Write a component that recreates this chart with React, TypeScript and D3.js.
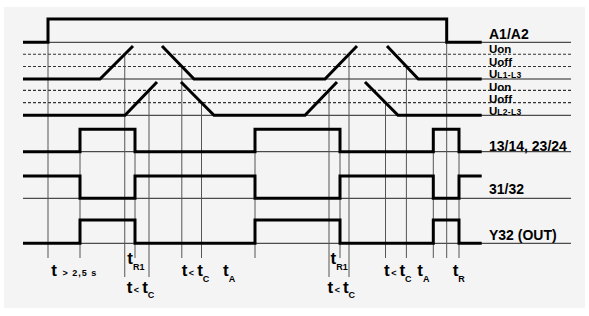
import * as d3 from "d3";

// time axis in diagram units (0 = left edge of the traces)
const timeEnd = 548;
const traceEnd = 458.7;

// supply A1/A2 : [time, level]
const a1a2Steps: [number, number][] = [[0, 0], [25, 1], [423.7, 0], [traceEnd, 0]];

// phase voltages, as separate ramps (0 = off, 1 = peak)
const l1Ramps: [number, number][][] = [
  [[0, 0], [77, 0], [110, 1]],
  [[139, 1], [171, 0], [302, 0], [334, 1]],
  [[364, 1], [395.3, 0], [traceEnd, 0]],
];
const l2Ramps: [number, number][][] = [
  [[0, 0], [102, 0], [134, 1]],
  [[158, 1], [191, 0], [282, 0], [314, 1]],
  [[342, 1], [375, 0], [traceEnd, 0]],
];
const uOn = 0.75;
const uOff = 0.38;

// contacts
const out1314Steps: [number, number][] = [[0, 0], [57, 1], [112, 0], [232, 1], [317, 0], [410.3, 1], [436, 0], [traceEnd, 0]];
const out3132Steps: [number, number][] = out1314Steps.map(([t, v]) => [t, 1 - v]);
const y32Steps: [number, number][] = out1314Steps.map(([t, v]) => [t, v]);

// vertical marker lines: time, row/level where they start, long = reaches second label row
const markers = [
  { t: 25, row: "a1", lvl: 0, long: false },
  { t: 57, row: "o1", lvl: 1, long: false },
  { t: 101.75, row: "l1", lvl: uOn, long: true },
  { t: 112, row: "o1", lvl: 1, long: false },
  { t: 126, row: "l2", lvl: uOn, long: true },
  { t: 158.8, row: "l1", lvl: uOff, long: false },
  { t: 178.5, row: "l2", lvl: uOff, long: false },
  { t: 232, row: "o1", lvl: 1, long: false },
  { t: 306, row: "l2", lvl: uOn, long: true },
  { t: 317, row: "o1", lvl: 1, long: false },
  { t: 326, row: "l1", lvl: uOn, long: true },
  { t: 362.5, row: "l2", lvl: uOff, long: false },
  { t: 383.4, row: "l1", lvl: uOff, long: false },
  { t: 410.3, row: "o1", lvl: 1, long: false },
  { t: 423.7, row: "a1", lvl: 1, long: false },
  { t: 436, row: "o1", lvl: 1, long: false },
];

// bottom time labels
const timeLabels = [
  { t: 28.3, line: 1, op: "", main: "", sub: "", small: " > 2,5 s" },
  { t: 104.3, line: 0, op: "", main: "", sub: "R1", small: "" },
  { t: 103.7, line: 2, op: "<", main: "t", sub: "C", small: "" },
  { t: 158.7, line: 1, op: "<", main: "t", sub: "C", small: "" },
  { t: 200, line: 1, op: "", main: "", sub: "A", small: "" },
  { t: 307.5, line: 0, op: "", main: "", sub: "R1", small: "" },
  { t: 304.5, line: 2, op: "<", main: "t", sub: "C", small: "" },
  { t: 361, line: 1, op: "<", main: "t", sub: "C", small: "" },
  { t: 394.3, line: 1, op: "", main: "", sub: "A", small: "" },
  { t: 429.7, line: 1, op: "", main: "", sub: "R", small: "" },
];

// right-hand signal names
const signalLabels = [
  { text: "A1/A2", sub: "", size: 14, y: 38.7 },
  { text: "Uon", sub: "", size: 11.5, y: 52.8 },
  { text: "Uoff", sub: "", size: 11.5, y: 66.4 },
  { text: "U", sub: "L1-L3", size: 11.5, y: 78.2 },
  { text: "Uon", sub: "", size: 11.5, y: 90.6 },
  { text: "Uoff", sub: "", size: 11.5, y: 102.8 },
  { text: "U", sub: "L2-L3", size: 11.5, y: 115 },
  { text: "13/14, 23/24", sub: "", size: 14, y: 150.7 },
  { text: "31/32", sub: "", size: 14, y: 194 },
  { text: "Y32 (OUT)", sub: "", size: 14, y: 239.5 },
];

const W = 589;
const H = 316;
const FONT = "'Liberation Sans', Arial, Helvetica, sans-serif";

export default function App() {
  const x = d3.scaleLinear().domain([0, timeEnd]).range([23, 571]);
  const rows: Record<string, d3.ScaleLinear<number, number>> = {
    a1: d3.scaleLinear().domain([0, 1]).range([42.3, 19]),
    l1: d3.scaleLinear().domain([0, 1]).range([79, 46]),
    l2: d3.scaleLinear().domain([0, 1]).range([115.3, 82]),
    o1: d3.scaleLinear().domain([0, 1]).range([151.7, 129.3]),
    o2: d3.scaleLinear().domain([0, 1]).range([198.3, 176]),
    o3: d3.scaleLinear().domain([0, 1]).range([243.3, 220]),
  };
  const labelBase = [264, 276, 292.5];
  const markerEnd = (long: boolean) => (long ? 277 : 258);

  const stepLine = (y: d3.ScaleLinear<number, number>) =>
    d3.line<[number, number]>().x((d) => x(d[0])).y((d) => y(d[1])).curve(d3.curveStepAfter);
  const rampLine = (y: d3.ScaleLinear<number, number>) =>
    d3.line<[number, number]>().x((d) => x(d[0])).y((d) => y(d[1]));

  const baselines = ["a1", "l1", "l2", "o1", "o2", "o3"].map((k) => rows[k](0));
  const dashed = [rows.l1(uOn), rows.l1(uOff), rows.l2(uOn), rows.l2(uOff)];

  const thick = { fill: "none", stroke: "#000", strokeWidth: 3, strokeLinejoin: "miter" as const };

  return (
    <svg width={W} height={H} style={{ position: "absolute", left: 0, top: 0 }} fontFamily={FONT}>
      <rect x={0} y={0} width={W} height={H} fill="#fff" />
      <rect x={4} y={7} width={581} height={301} fill="#f4f4f4" />

      {baselines.map((y, i) => (
        <line key={"b" + i} x1={x(0)} x2={x(timeEnd)} y1={y} y2={y} stroke="#222" strokeWidth={1} />
      ))}
      {dashed.map((y, i) => (
        <line key={"d" + i} x1={x(0)} x2={x(timeEnd)} y1={y} y2={y} stroke="#333" strokeWidth={1.1} strokeDasharray="3,2" />
      ))}

      {markers.map((m, i) => (
        <line key={"m" + i} x1={x(m.t)} x2={x(m.t)} y1={rows[m.row](m.lvl)} y2={markerEnd(m.long)} stroke="#555" strokeWidth={1} />
      ))}

      <path d={stepLine(rows.a1)(a1a2Steps) ?? ""} {...thick} />
      {l1Ramps.map((r, i) => (
        <path key={"l1" + i} d={rampLine(rows.l1)(r) ?? ""} {...thick} />
      ))}
      {l2Ramps.map((r, i) => (
        <path key={"l2" + i} d={rampLine(rows.l2)(r) ?? ""} {...thick} />
      ))}
      <path d={stepLine(rows.o1)(out1314Steps) ?? ""} {...thick} />
      <path d={stepLine(rows.o2)(out3132Steps) ?? ""} {...thick} />
      <path d={stepLine(rows.o3)(y32Steps) ?? ""} {...thick} />

      {signalLabels.map((s, i) => (
        <text key={"s" + i} x={489} y={s.y} fontSize={s.size} fontWeight="bold" fill="#000">
          {s.text}
          {s.sub && (
            <tspan fontSize={8.5} letterSpacing={0.3}>
              {s.sub}
            </tspan>
          )}
        </text>
      ))}

      {timeLabels.map((l, i) => (
        <text key={"t" + i} x={x(l.t)} y={labelBase[l.line]} fontWeight="bold" fill="#000">
          <tspan fontSize={17}>t</tspan>
          {l.small && (
            <tspan fontSize={9} letterSpacing={1} dx={2}>
              {l.small}
            </tspan>
          )}
          {l.op && (
            <tspan fontSize={9} dx={1.5}>
              {l.op}
            </tspan>
          )}
          {l.main && (
            <tspan fontSize={17} dx={3}>
              {l.main}
            </tspan>
          )}
          {l.sub && (
            <tspan fontSize={9} dy={5.5}>
              {l.sub}
            </tspan>
          )}
        </text>
      ))}
    </svg>
  );
}
